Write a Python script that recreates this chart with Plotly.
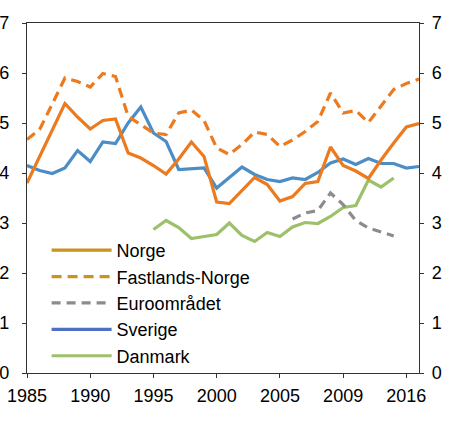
import plotly.graph_objects as go

years = list(range(1985, 2017))

norge = [3.80, 4.33, 4.86, 5.39, 5.12, 4.88, 5.05, 5.08, 4.40, 4.30, 4.15, 3.98, 4.28, 4.62, 4.33,
         3.42, 3.39, 3.65, 3.91, 3.77, 3.44, 3.53, 3.79, 3.83, 4.52, 4.15, 4.04, 3.89, 4.26, 4.60, 4.92, 4.99]
fastland = [4.67, 4.87, 5.38, 5.90, 5.83, 5.72, 5.99, 5.93, 5.13, 4.97, 4.80, 4.77, 5.20, 5.26, 5.05,
            4.50, 4.37, 4.57, 4.82, 4.77, 4.53, 4.66, 4.83, 5.03, 5.60, 5.20, 5.25, 5.01, 5.33, 5.67, 5.79, 5.88]
sverige = [4.15, 4.05, 3.99, 4.10, 4.45, 4.23, 4.62, 4.59, 5.00, 5.32, 4.80, 4.63, 4.07, 4.08, 4.10,
           3.70, 3.90, 4.12, 3.97, 3.87, 3.83, 3.90, 3.87, 4.01, 4.20, 4.28, 4.17, 4.29, 4.19, 4.19, 4.10, 4.13]
dk_years = list(range(1995, 2015))
danmark = [2.87, 3.05, 2.91, 2.69, 2.73, 2.77, 3.00, 2.75, 2.63, 2.81, 2.73, 2.92, 3.01, 2.99, 3.13,
           3.31, 3.35, 3.86, 3.72, 3.90]
euro_years = list(range(2006, 2015))
euro = [3.08, 3.20, 3.25, 3.60, 3.37, 3.05, 2.90, 2.82, 2.74]

tick_vals = [1985, 1990, 1995, 2000, 2005, 2010, 2015]
tick_text = ["1985", "1990", "1995", "2000", "2005", "2009", "2016"]
y_ticks = [0, 1, 2, 3, 4, 5, 6, 7]

ORANGE = "#EC7A1F"
BLUE = "#4C8DC6"
GREEN = "#9DC06A"
GREY = "#8C8C8C"

series = [
    ("Norge", years, norge, ORANGE, "solid", "#C8931E"),
    ("Fastlands-Norge", years, fastland, ORANGE, "10px,6px", "#C8931E"),
    ("Euroområdet", euro_years, euro, GREY, "9px,6px", GREY),
    ("Sverige", years, sverige, BLUE, "solid", "#4F70C0"),
    ("Danmark", dk_years, danmark, GREEN, "solid", GREEN),
]

fig = go.Figure()
for name, xs, ys, col, dash, lcol in [series[4], series[2], series[3], series[1], series[0]]:
    fig.add_trace(go.Scatter(x=xs, y=ys, mode="lines", name=name, showlegend=False,
                             line=dict(color=col, width=3.2, dash=dash)))
for name, xs, ys, col, dash, lcol in series:
    fig.add_trace(go.Scatter(x=[None], y=[None], mode="lines", name=name,
                             line=dict(color=lcol, width=3.2, dash=dash)))
fig.add_trace(go.Scatter(x=[years[0]], y=[norge[0]], yaxis="y2", mode="lines",
                         showlegend=False, hoverinfo="skip", line=dict(width=0)))

font = dict(family="Liberation Sans, Arial, sans-serif", size=18, color="black")
axcol = "#333333"
fig.update_layout(
    width=450, height=425,
    margin=dict(l=27, r=31, t=23, b=52),
    paper_bgcolor="white", plot_bgcolor="white",
    font=font,
    xaxis=dict(range=[1985, 2016], tickvals=tick_vals, ticktext=tick_text, automargin=False,
               showgrid=False, zeroline=False, showline=True, linecolor=axcol, linewidth=1.3,
               mirror=True, ticks="outside", ticklen=4, tickcolor=axcol, tickwidth=1.3,
               ticklabelstandoff=2),
    yaxis=dict(range=[0, 7], tickvals=y_ticks, showgrid=False, zeroline=False, automargin=False,
               showline=True, linecolor=axcol, linewidth=1.3, ticks="outside", ticklen=4,
               tickcolor=axcol, tickwidth=1.3, ticklabelstandoff=9),
    yaxis2=dict(range=[0, 7], tickvals=y_ticks, overlaying="y", side="right", automargin=False,
                showgrid=False, zeroline=False, showline=True, linecolor=axcol, linewidth=1.3,
                ticks="outside", ticklen=4, tickcolor=axcol, tickwidth=1.3, ticklabelstandoff=4),
    legend=dict(x=0.05, y=0.403, xanchor="left", yanchor="top", bgcolor="rgba(0,0,0,0)",
                font=font, itemwidth=60, tracegroupgap=0),
    showlegend=True,
)

fig.write_html("out.html", config={"displayModeBar": False},
               post_script="document.body.style.margin='0';")
